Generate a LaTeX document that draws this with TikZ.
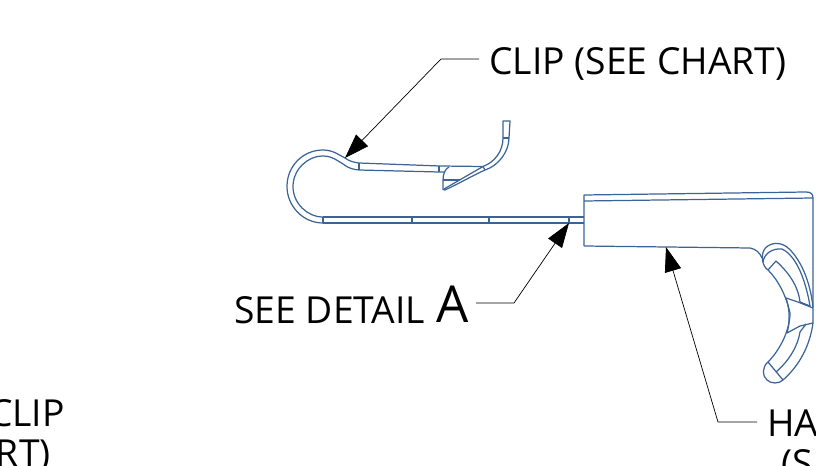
\documentclass[tikz,border=0pt]{standalone}
\usepackage{fontspec}
\setmainfont{Open Sans}
\usetikzlibrary{arrows.meta}
\tikzset{
  partline/.style={draw=partblue, line width=0.7pt, line join=round},
  leader/.style={draw=black, line width=0.4pt, -{Triangle[length=14pt,width=9.5pt]}},
  callout/.style={font=\fontsize{21.2pt}{24pt}\selectfont, inner xsep=0pt, inner ysep=0pt}
}
\definecolor{partblue}{HTML}{3A6496}
\begin{document}
\begin{tikzpicture}[x=0.02cm,y=-0.02cm]
\clip (0,0) rectangle (816,466);

% labels
\node [callout, anchor=base west] (cliplabel) at (489,75) {CLIP (SEE CHART)};
\node [callout, anchor=base west] (detaillabel) at (234,324) {SEE DETAIL};
\node [callout, anchor=base west, font=\fontsize{29pt}{31pt}\selectfont] (detailletter) at (436,323) {A};
\node [callout, anchor=base east] (leftclip) at (65,426) {CLIP};
\node [callout, anchor=base east] (leftchart) at (51,466) {RT)};
\node [callout, anchor=base west] (handlelabel) at (767,437) {HA};
\node [callout, anchor=base west] (handlesub) at (781,477) {(S};

% clip body
\draw [partline] (323,223) .. controls (303,223) and (287,206) .. (287,186.5)
  .. controls (287,166) and (303,150) .. (323,150)
  .. controls (333,150) and (339,155) .. (345,158)
  .. controls (349,161) and (354,162.5) .. (359,163) -- (440,166) -- (483,166.5)
  .. controls (495,162) and (503,151) .. (503,138) -- (503,121) -- (510,121) -- (509,138)
  .. controls (509,152) and (498,166) .. (485,170)
  .. controls (472,176) and (458,184) .. (445,190);
\draw [partline] (323,217) .. controls (307,217) and (293,203) .. (293,186.5)
  .. controls (293,170) and (307,156) .. (323,156)
  .. controls (332,156) and (338,161) .. (343,164)
  .. controls (348,168) and (353,169.5) .. (359,170) -- (439,172) -- (445,172);
\draw [partline] (323,223) -- (584,223);
\draw [partline] (323,217) -- (584,217);
\draw [partline] (323,217) -- (323,223);
\draw [partline] (412,217) -- (412,223);
\draw [partline] (489,217) -- (489,223);
\draw [partline] (569,217) -- (569,223);
\draw [partline] (359,163) -- (359,170);
\draw [partline] (439,166) -- (439,172);
\draw [partline] (503,138) -- (509,138);
\draw [partline] (483,166.5) -- (485,170);
% clip hook
\draw [partline] (449,167) .. controls (445,169) and (443,174) .. (443,180) -- (443,189.5) -- (445,190);
\draw [partline] (443,180) -- (460,180);
\draw [partline] (444,189) -- (483,166.5);
\draw [partline] (462,166.5) -- (462,167.5);

% handle
\draw [partline] (584,246) -- (584,195) -- (806,192)
  .. controls (811,192) and (813,194) .. (813,198) -- (813,323);
\draw [partline] (584,201) -- (813,198);
\draw [partline] (584,246) -- (750,248)
  .. controls (756,249) and (760,253) .. (762,258);

% trigger, upper lobe
\draw [partline] (768,270) .. controls (762,266) and (761,256) .. (764,250)
  .. controls (768,243) and (779,241) .. (787,247)
  .. controls (800,258) and (810,280) .. (813,307);
\draw [partline] (763,262) .. controls (764,254) and (772,248) .. (782,249)
  .. controls (797,256) and (806,282) .. (810,306);
\draw [partline] (776,261) .. controls (788,272) and (798,285) .. (800,302);
\draw [partline] (768,270) -- (776,261);
% trigger, centre
\draw [partline] (768,270) .. controls (778,280) and (786,295) .. (790,313)
  .. controls (790,330) and (780,350) .. (768,362);
\draw [partline] (786,298) .. controls (790,310) and (790,322) .. (787,333);
\draw [partline] (786,298) -- (798,302) -- (813,308);
\draw [partline] (800,302) -- (810,306);
\draw [partline] (787,333) -- (800,326) -- (813,323);
% trigger, lower lobe
\draw [partline] (768,362) .. controls (762,367) and (762,376) .. (767,380)
  .. controls (771,384) and (779,384) .. (783,380)
  .. controls (800,365) and (810,345) .. (813,323);
\draw [partline] (776,372) .. controls (790,360) and (798,345) .. (800,332) -- (806,324);
\draw [partline] (768,362) -- (783,380);

% leaders
\coordinate (clipbend) at (441,59);
\coordinate (cliptip) at (345,158);
\coordinate (detailbend) at (514,303);
\coordinate (detailtip) at (569,223);
\coordinate (handlebend) at (718,422);
\coordinate (handletip) at (666,247);
\draw [leader] (479,59) -- (clipbend) -- (cliptip);
\draw [leader] (476,303) -- (detailbend) -- (detailtip);
\draw [leader] (757,422) -- (handlebend) -- (handletip);
\end{tikzpicture}
\end{document}
